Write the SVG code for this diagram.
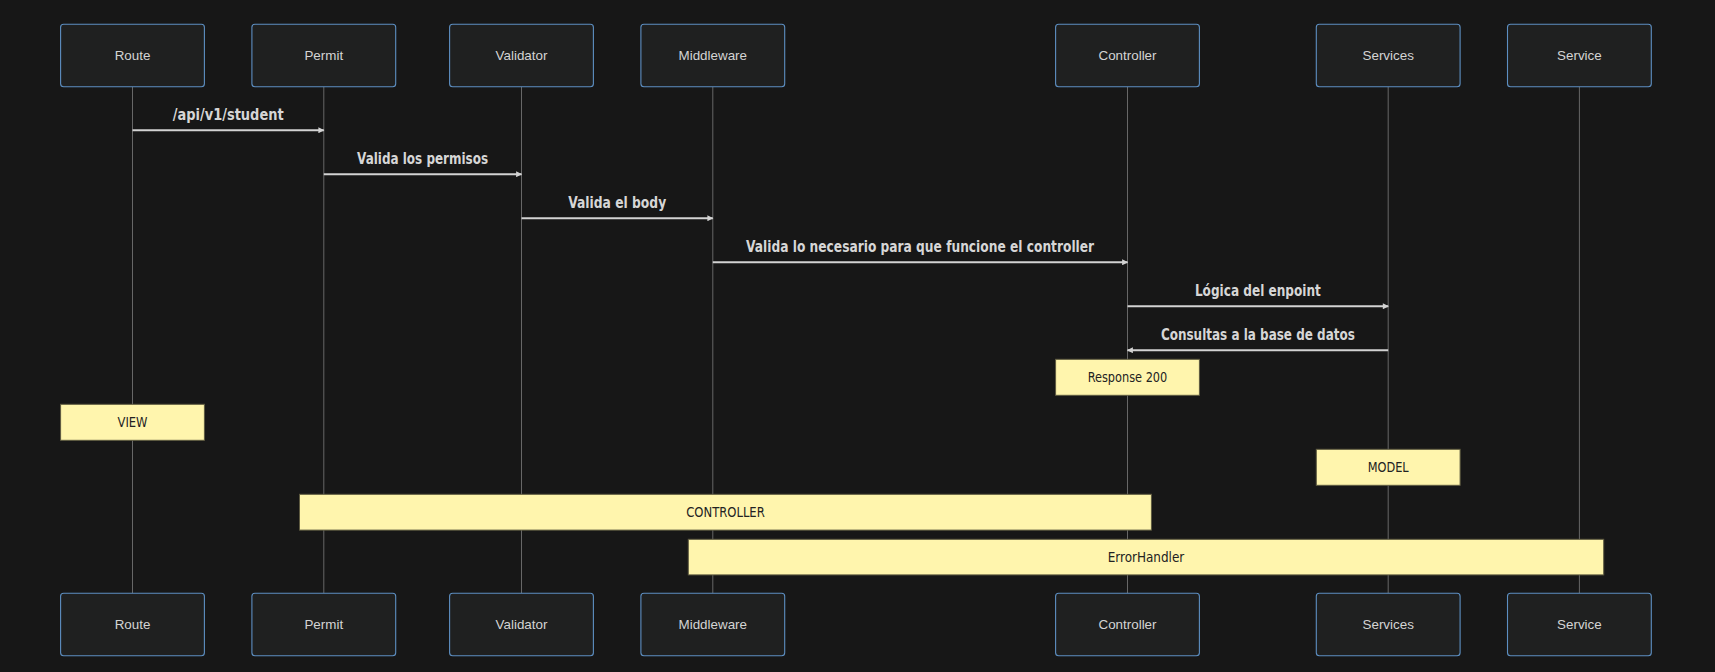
<svg xmlns="http://www.w3.org/2000/svg" width="1715" height="672" viewBox="0 0 1715 672">
<defs>
<style>
.bg{fill:#171717}
.actor rect{fill:#1f2020;stroke:#5d8fc2;stroke-width:1.1}
.actor text{font-family:"Liberation Sans",Arial,sans-serif;font-size:13.4px;fill:#d4d4d4;text-anchor:middle}
.life{stroke:#8a8a8a;stroke-width:0.7}
.msg{stroke:#d3d3d3;stroke-width:1.9;fill:none}
.mtext{font-family:"Liberation Sans Narrow","DejaVu Sans Condensed","Liberation Sans",sans-serif;font-weight:bold;font-size:15.4px;fill:#d6d6d6;text-anchor:middle}
.note rect{fill:#fff5ad;stroke:#5e5a40;stroke-width:1}
.note text{font-family:"Liberation Sans Narrow","DejaVu Sans Condensed","Liberation Sans",sans-serif;font-size:13.4px;fill:#222;text-anchor:middle}
</style>
<marker id="arrow" viewBox="0 0 10 10" refX="9" refY="5" markerWidth="9" markerHeight="6" markerUnits="userSpaceOnUse" orient="auto">
<path d="M0,0 L10,5 L0,10 z" fill="#d3d3d3"/>
</marker>
</defs>
<rect class="bg" x="0" y="0" width="1715" height="672"/>

<g id="lifelines">
<line class="life" x1="132.5" y1="86.7" x2="132.5" y2="593.3"/>
<line class="life" x1="323.8" y1="86.7" x2="323.8" y2="593.3"/>
<line class="life" x1="521.5" y1="86.7" x2="521.5" y2="593.3"/>
<line class="life" x1="712.8" y1="86.7" x2="712.8" y2="593.3"/>
<line class="life" x1="1127.5" y1="86.7" x2="1127.5" y2="593.3"/>
<line class="life" x1="1388.2" y1="86.7" x2="1388.2" y2="593.3"/>
<line class="life" x1="1579.4" y1="86.7" x2="1579.4" y2="593.3"/>
</g>

<g id="actor-Route" class="actor">
<rect x="60.6" y="24.3" width="143.8" height="62.4" rx="3"/><text x="132.5" y="60">Route</text>
<rect x="60.6" y="593.3" width="143.8" height="62.4" rx="3"/><text x="132.5" y="629.3">Route</text>
</g>
<g id="actor-Permit" class="actor">
<rect x="251.9" y="24.3" width="143.8" height="62.4" rx="3"/><text x="323.8" y="60">Permit</text>
<rect x="251.9" y="593.3" width="143.8" height="62.4" rx="3"/><text x="323.8" y="629.3">Permit</text>
</g>
<g id="actor-Validator" class="actor">
<rect x="449.6" y="24.3" width="143.8" height="62.4" rx="3"/><text x="521.5" y="60">Validator</text>
<rect x="449.6" y="593.3" width="143.8" height="62.4" rx="3"/><text x="521.5" y="629.3">Validator</text>
</g>
<g id="actor-Middleware" class="actor">
<rect x="640.9" y="24.3" width="143.8" height="62.4" rx="3"/><text x="712.8" y="60">Middleware</text>
<rect x="640.9" y="593.3" width="143.8" height="62.4" rx="3"/><text x="712.8" y="629.3">Middleware</text>
</g>
<g id="actor-Controller" class="actor">
<rect x="1055.6" y="24.3" width="143.8" height="62.4" rx="3"/><text x="1127.5" y="60">Controller</text>
<rect x="1055.6" y="593.3" width="143.8" height="62.4" rx="3"/><text x="1127.5" y="629.3">Controller</text>
</g>
<g id="actor-Services" class="actor">
<rect x="1316.3" y="24.3" width="143.8" height="62.4" rx="3"/><text x="1388.2" y="60">Services</text>
<rect x="1316.3" y="593.3" width="143.8" height="62.4" rx="3"/><text x="1388.2" y="629.3">Services</text>
</g>
<g id="actor-Service" class="actor">
<rect x="1507.5" y="24.3" width="143.8" height="62.4" rx="3"/><text x="1579.4" y="60">Service</text>
<rect x="1507.5" y="593.3" width="143.8" height="62.4" rx="3"/><text x="1579.4" y="629.3">Service</text>
</g>

<g id="connectors">
<line class="msg" x1="132.5" y1="130.2" x2="323.8" y2="130.2" marker-end="url(#arrow)"/>
<text class="mtext" x="228.2" y="120" textLength="111" lengthAdjust="spacingAndGlyphs">/api/v1/student</text>
<line class="msg" x1="323.8" y1="174.2" x2="521.5" y2="174.2" marker-end="url(#arrow)"/>
<text class="mtext" x="422.6" y="164" textLength="131" lengthAdjust="spacingAndGlyphs">Valida los permisos</text>
<line class="msg" x1="521.5" y1="218.2" x2="712.8" y2="218.2" marker-end="url(#arrow)"/>
<text class="mtext" x="617.2" y="208" textLength="98" lengthAdjust="spacingAndGlyphs">Valida el body</text>
<line class="msg" x1="712.8" y1="262.3" x2="1127.5" y2="262.3" marker-end="url(#arrow)"/>
<text class="mtext" x="920.1" y="252" textLength="348" lengthAdjust="spacingAndGlyphs">Valida lo necesario para que funcione el controller</text>
<line class="msg" x1="1127.5" y1="306.3" x2="1388.2" y2="306.3" marker-end="url(#arrow)"/>
<text class="mtext" x="1257.9" y="296" textLength="126" lengthAdjust="spacingAndGlyphs">Lógica del enpoint</text>
<line class="msg" x1="1388.2" y1="350.2" x2="1127.5" y2="350.2" marker-end="url(#arrow)"/>
<text class="mtext" x="1257.9" y="340" textLength="194" lengthAdjust="spacingAndGlyphs">Consultas a la base de datos</text>
</g>

<g id="note-response" class="note">
<rect x="1055.6" y="359.3" width="143.8" height="36"/><text x="1127.5" y="382.2" textLength="79.6" lengthAdjust="spacingAndGlyphs">Response 200</text>
</g>
<g id="note-view" class="note">
<rect x="60.6" y="404.3" width="143.8" height="36"/><text x="132.5" y="427.2" textLength="30" lengthAdjust="spacingAndGlyphs">VIEW</text>
</g>
<g id="note-model" class="note">
<rect x="1316.3" y="449.3" width="143.8" height="36"/><text x="1388.2" y="472.2" textLength="41" lengthAdjust="spacingAndGlyphs">MODEL</text>
</g>
<g id="note-controller" class="note">
<rect x="299.5" y="494.3" width="851.9" height="35.8"/><text x="725.5" y="517" textLength="78.6" lengthAdjust="spacingAndGlyphs">CONTROLLER</text>
</g>
<g id="note-errorhandler" class="note">
<rect x="688.3" y="539.3" width="915.4" height="35.6"/><text x="1146" y="561.9" textLength="76.6" lengthAdjust="spacingAndGlyphs">ErrorHandler</text>
</g>
</svg>
